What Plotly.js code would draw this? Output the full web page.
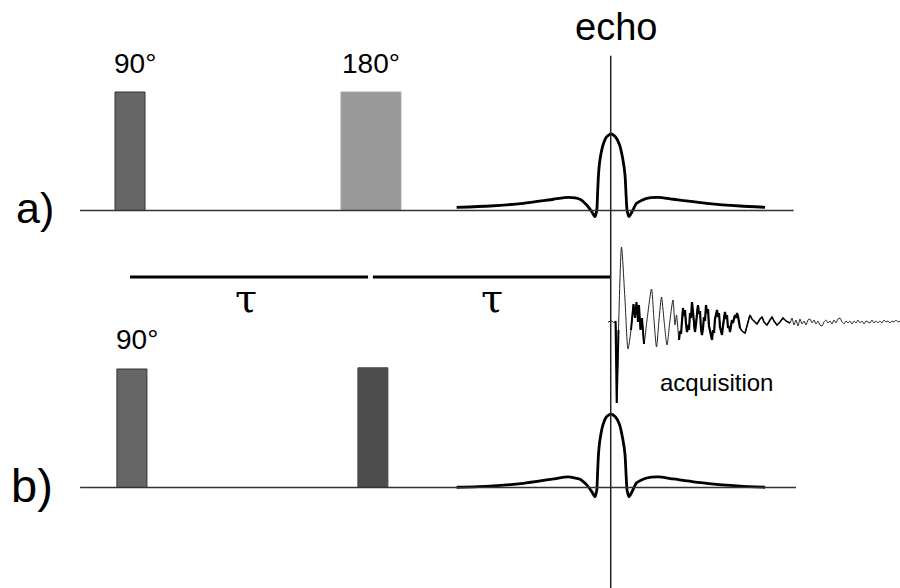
<!DOCTYPE html>
<html>
<head>
<meta charset="utf-8">
<script src="https://cdn.plot.ly/plotly-3.0.1.min.js"></script>
<style>html,body{margin:0;padding:0;background:#fff;}#chart{width:900px;height:588px;}</style>
</head>
<body>
<div id="chart"></div>
<script>
// ---- Data (time in arbitrary units, tau = 10; echo at 2*tau) ----
// Sequence a): 90° and 180° pulses
const pulseA_t = [0, 10.04];
const pulseA_width = [1.25, 2.5];
const pulseA_amp = [1, 1];
const pulseA_labels = ["90°", "180°"];
const pulseA_colors = ["#666666", "#999999"];
const pulseA_edge = ["#333333", "#a8a8a8"];

// Sequence b): 90° and second pulse
const pulseB_t = [0.08, 10.12];
const pulseB_width = [1.25, 1.25];
const pulseB_amp = [1, 1.01];
const pulseB_labels = ["90°", ""];
const pulseB_colors = ["#666666", "#4d4d4d"];
const pulseB_edge = ["#333333", "#444444"];

// Echo shapes (time, amplitude relative to pulse height)
const echoA_t = [13.61, 15.00, 16.39, 17.64, 18.26, 18.75, 19.03, 19.24, 19.375, 19.45, 19.48, 19.52, 19.58, 19.71, 19.85, 20.04,
                 20.23, 20.40, 20.54, 20.625, 20.67, 20.71, 20.79, 20.92, 21.11, 21.53, 22.01, 22.64, 24.03, 25.42, 26.46];
const echoA_amp = [0.027, 0.038, 0.061, 0.095, 0.111, 0.095, 0.046, -0.010, -0.052, 0.004, 0.131, 0.300, 0.426, 0.553, 0.620, 0.646,
                   0.620, 0.553, 0.426, 0.300, 0.131, 0.004, -0.052, -0.010, 0.061, 0.103, 0.111, 0.095, 0.061, 0.038, 0.027];
const echoB_t = echoA_t;
const echoB_amp = [0.002, 0.012, 0.035, 0.072, 0.089, 0.070, 0.022, -0.035, -0.078, -0.020, 0.110, 0.280, 0.400, 0.530, 0.595, 0.620,
                   0.595, 0.530, 0.400, 0.280, 0.110, -0.020, -0.078, -0.035, 0.040, 0.080, 0.089, 0.072, 0.035, 0.012, 0.002];

// Acquired FID (acquisition time after echo, amplitude a.u.)
const fid_t = [-0.2, 0.2, 0.4, 0.55, 0.67, 0.85, 1.15, 1.5, 1.8, 2.1, 2.35, 2.5, 2.65, 2.8, 2.9, 3.05, 3.2, 3.4, 3.7, 4.15, 4.4, 4.65,
  4.9, 5.15, 5.4, 5.7, 6.0, 6.3, 6.5, 6.65, 6.9,
  7.0, 7.1, 7.2, 7.3, 7.4, 7.5, 7.6, 7.7, 7.8, 7.9, 8.0, 8.1, 8.2, 8.3, 8.4, 8.5, 8.6, 8.7, 8.8, 8.9, 9.0, 9.1, 9.2, 9.3, 9.4,
  9.5, 9.6, 9.7, 9.8, 9.9, 10.0, 10.1, 10.2, 10.3, 10.4, 10.5, 10.6, 10.7, 10.8, 10.9, 11.0, 11.1, 11.2, 11.3, 11.4, 11.5,
  11.6, 11.7, 11.8, 11.9, 12.0, 12.1, 12.2, 12.3, 12.4, 12.5, 12.6, 12.7, 12.8, 12.9, 13.0, 13.2, 13.5, 13.7, 14.0, 14.2,
  14.4, 14.7, 15.0, 15.2, 15.4, 15.7, 16.0, 16.2, 16.4, 16.7, 17.0, 17.3, 17.6, 18.0, 18.2, 18.4, 18.6, 18.8, 19.0, 19.2,
  19.4, 19.6, 19.8, 20.0, 20.2, 20.4, 20.6, 20.8, 21.0, 21.2, 21.4, 21.6, 21.8, 22.0, 22.2, 22.4, 22.6, 22.8, 23.0, 23.2,
  23.4, 23.6, 23.8, 24.0, 24.2, 24.4, 24.6, 24.8, 25.0, 25.2, 25.4, 25.6, 25.8, 26.0, 26.2, 26.4, 26.6, 26.8, 27.0, 27.2,
  27.4, 27.6, 27.8, 28.0, 28.2, 28.4, 28.6, 28.8, 29.0];
const fid_amp = [0, 0.1, -0.1, 0.1, -8.1, -0.8, 7.5, 2.2, -2.7, -0.8, 1.8, 0.4, 2.0, 0, 1.7, -0.8, 0.4, -2.2, 0.2, 3.3, 0.2, -2.5,
  0.2, 2.5, 0.2, -2.3, 0.2, 2.2, -0.3, 0.7, -1.8,
  -0.9, -1.2, 0.4, 1.4, 0.6, 1.2, -0.2, -1.0, -0.3, -0.8, 0.9, 0.4, 2.0, 1.0, -0.6, -1.0, -0.2, 1.2, 1.7, 0.8, 1.1, -0.7, -1.3, -0.6, 0.5,
  0.1, 1.7, 0.9, 1.3, -0.4, -0.9, -1.4, -1.8, -0.8, -1.1, 0.3, 0.7, 1.2, 0.5, 0.9, -0.5, -0.8, -1.3, -0.4, 0.6, 1.0,
  0.3, 0.7, -0.6, -0.4, -1.0, -0.3, 0.2, -0.1, 0.5, 0.7, 0.4, 0.9, 0.6, 0.1, -0.6, -0.9, -1.1, -0.4, 0.7, 0.3,
  0.1, -0.2, 0.3, 0.5, 0.0, -0.3, 0.2, 0.5, 0.1, -0.3, 0.0, 0.4, 0.1, -0.1, 0.4, -0.3, 0.2, -0.4, 0.3, -0.2,
  0.1, -0.3, 0.2, 0.3, -0.1, 0.2, -0.2, 0.1, -0.3, -0.4, 0.0, 0.2, -0.1, 0.1, -0.2, 0.2, -0.1, 0.3, 0.4, 0.0,
  -0.2, 0.1, -0.1, 0.1, -0.2, 0.1, -0.1, 0.2, -0.1, 0.1, -0.2, 0.1, 0.0, -0.1, 0.2, -0.1, 0.1, -0.1, 0.1, -0.1,
  0.2, 0.0, 0.1, -0.1, 0.1, 0.0, 0.2, 0.0, 0.1];

// Time markers
const echoTime = 20;            // 2*tau
const tauStarts = [0, 10.12];
const tauEnds = [9.92, 20];
const tauLabelTimes = [4.83, 15.08];
const baselineRange = [-2.08, 27.65];

// Noisy (dense) stretches of the FID, drawn with heavier strokes: [start, end, stroke width]
const fidDense = [[0.55, 0.85, 2.0], [2.1, 3.4, 2.0], [6.9, 13.0, 2.2], [13.0, 18.0, 1.5]];

// ---- Traces ----
const traces = [
  {type: 'bar', x: pulseA_t, y: pulseA_amp, width: pulseA_width, base: 0, xaxis: 'x', yaxis: 'y',
   marker: {color: pulseA_colors, line: {color: pulseA_edge, width: 1}}, hoverinfo: 'skip'},
  {type: 'bar', x: pulseB_t, y: pulseB_amp, width: pulseB_width, base: 0, xaxis: 'x', yaxis: 'y3',
   marker: {color: pulseB_colors, line: {color: pulseB_edge, width: 1}}, hoverinfo: 'skip'},
  {type: 'scatter', mode: 'lines', x: echoA_t, y: echoA_amp, xaxis: 'x', yaxis: 'y',
   line: {color: '#000', width: 2.8, shape: 'spline', smoothing: 0.6}, hoverinfo: 'skip'},
  {type: 'scatter', mode: 'lines', x: echoB_t, y: echoB_amp, xaxis: 'x', yaxis: 'y3',
   line: {color: '#000', width: 2.8, shape: 'spline', smoothing: 0.6}, hoverinfo: 'skip'},
  {type: 'scatter', mode: 'lines', x: fid_t, y: fid_amp, xaxis: 'x2', yaxis: 'y2',
   line: {color: '#222', width: 1, shape: 'spline', smoothing: 0.7}, hoverinfo: 'skip'}
];
fidDense.forEach(([a, b, w]) => {
  const idx = fid_t.map((t, i) => i).filter(i => fid_t[i] >= a && fid_t[i] <= b);
  traces.push({type: 'scatter', mode: 'lines', x: idx.map(i => fid_t[i]), y: idx.map(i => fid_amp[i]),
    xaxis: 'x2', yaxis: 'y2', line: {color: '#000', width: w}, hoverinfo: 'skip'});
});

// ---- Layout ----
const hidden = {visible: false, fixedrange: true};
const shapes = [
  {type: 'line', xref: 'x', yref: 'y', x0: baselineRange[0], x1: baselineRange[1], y0: 0, y1: 0, line: {color: '#333', width: 1.6}},
  {type: 'line', xref: 'x', yref: 'y3', x0: baselineRange[0], x1: baselineRange[1] + 0.1, y0: 0, y1: 0, line: {color: '#333', width: 1.6}},
  {type: 'line', xref: 'x', yref: 'paper', x0: echoTime + 0.03, x1: echoTime + 0.03, y0: 0, y1: 0.905, line: {color: '#222', width: 1.5}}
];
tauStarts.forEach((s, i) => shapes.push({type: 'line', xref: 'x', yref: 'paper', x0: s, x1: tauEnds[i], y0: 0.529, y1: 0.529,
  line: {color: '#000', width: 3}}));

const font = 'Liberation Sans, Arial, sans-serif';
const annotations = [
  {text: 'echo', xref: 'paper', yref: 'paper', x: 0.6844, y: 0.954, font: {family: font, size: 38, color: '#000'}},
  {text: pulseA_labels[0], xref: 'x', yref: 'paper', x: pulseA_t[0] + 0.2, y: 0.892, font: {family: font, size: 28, color: '#000'}},
  {text: pulseA_labels[1], xref: 'x', yref: 'paper', x: pulseA_t[1], y: 0.892, font: {family: font, size: 28, color: '#000'}},
  {text: pulseB_labels[0], xref: 'x', yref: 'paper', x: pulseB_t[0] + 0.2, y: 0.422, font: {family: font, size: 28, color: '#000'}},
  {text: 'a)', xref: 'paper', yref: 'paper', x: 0.039, y: 0.646, font: {family: font, size: 43, color: '#000'}},
  {text: 'b)', xref: 'paper', yref: 'paper', x: 0.036, y: 0.175, font: {family: font, size: 47, color: '#000'}},
  {text: 'τ', xref: 'x', yref: 'paper', x: tauLabelTimes[0], y: 0.493, font: {family: 'DejaVu Serif, serif', size: 40, color: '#000'}},
  {text: 'τ', xref: 'x', yref: 'paper', x: tauLabelTimes[1], y: 0.493, font: {family: 'DejaVu Serif, serif', size: 40, color: '#000'}},
  {text: 'acquisition', xref: 'paper', yref: 'paper', x: 0.796, y: 0.350, font: {family: font, size: 24, color: '#000'}}
].map(a => Object.assign({showarrow: false, xanchor: 'center', yanchor: 'middle'}, a));

const layout = {
  width: 900, height: 588,
  margin: {l: 0, r: 0, t: 0, b: 0, pad: 0},
  paper_bgcolor: '#fff', plot_bgcolor: '#fff',
  showlegend: false, barmode: 'overlay', bargap: 0,
  xaxis: Object.assign({range: [-5.4167, 32.0833], domain: [0, 1]}, hidden),
  xaxis2: Object.assign({range: [-61, 29], overlaying: 'x', anchor: 'y'}, hidden),
  yaxis: Object.assign({range: [-3.1857, 1.7764], domain: [0, 1]}, hidden),
  yaxis2: Object.assign({range: [-26.6, 32.2], overlaying: 'y', anchor: 'x'}, hidden),
  yaxis3: Object.assign({range: [-0.8481, 4.1139], overlaying: 'y', anchor: 'x'}, hidden),
  shapes: shapes,
  annotations: annotations
};

Plotly.newPlot('chart', traces, layout, {staticPlot: true, displayModeBar: false});
</script>
</body>
</html>
